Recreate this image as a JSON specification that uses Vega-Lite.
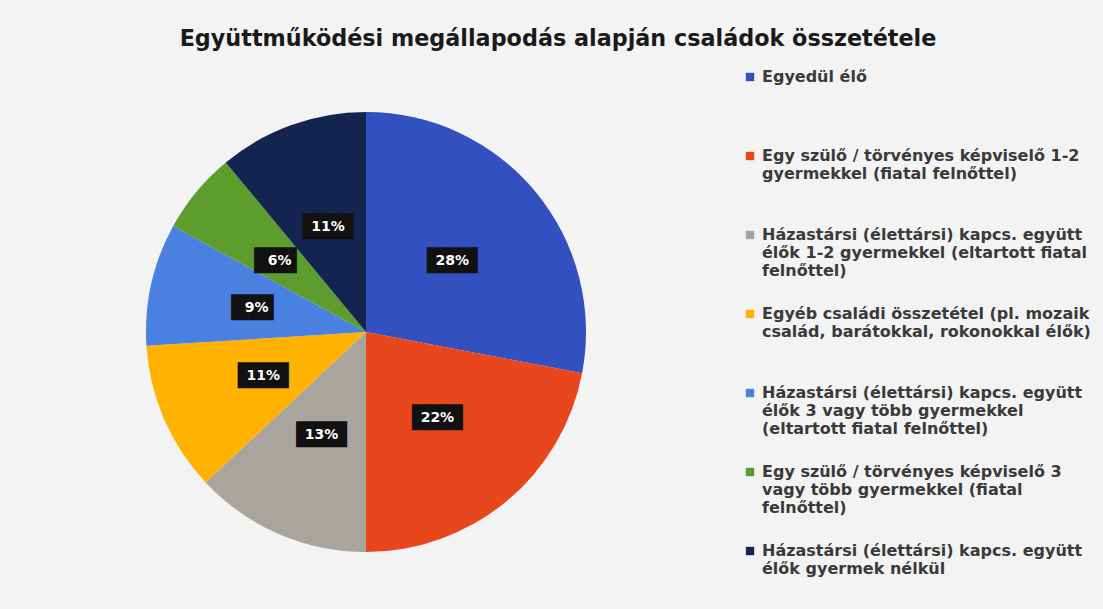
{
  "$schema": "https://vega.github.io/schema/vega-lite/v6.json",
  "autosize": {"type": "none"},
  "width": 732,
  "height": 544,
  "padding": {"top": 60, "left": 0, "right": 371, "bottom": 5},
  "background": "#f3f3f3",
  "title": {
    "text": "Együttműködési megállapodás alapján családok összetétele",
    "font": "DejaVu Sans",
    "fontSize": 22.3,
    "fontWeight": "bold",
    "color": "#1a1a1a",
    "anchor": "middle",
    "frame": "bounds",
    "dx": 8,
    "offset": 10
  },
  "data": {
    "values": [
      {"o": 1, "cat": "Egyedül élő", "pct": 28, "label": "28%"},
      {"o": 2, "cat": "Egy szülő / törvényes képviselő 1-2\ngyermekkel (fiatal felnőttel)", "pct": 22, "label": "22%"},
      {"o": 3, "cat": "Házastársi (élettársi) kapcs. együtt\nélők 1-2 gyermekkel (eltartott fiatal\nfelnőttel)", "pct": 13, "label": "13%"},
      {"o": 4, "cat": "Egyéb családi összetétel (pl. mozaik\ncsalád, barátokkal, rokonokkal élők)", "pct": 11, "label": "11%"},
      {"o": 5, "cat": "Házastársi (élettársi) kapcs. együtt\nélők 3 vagy több gyermekkel\n(eltartott fiatal felnőttel)", "pct": 9, "label": "9%"},
      {"o": 6, "cat": "Egy szülő / törvényes képviselő 3\nvagy több gyermekkel (fiatal\nfelnőttel)", "pct": 6, "label": "6%"},
      {"o": 7, "cat": "Házastársi (élettársi) kapcs. együtt\nélők gyermek nélkül", "pct": 11, "label": "11%"}
    ]
  },
  "encoding": {
    "theta": {"field": "pct", "type": "quantitative", "stack": true},
    "order": {"field": "o", "type": "quantitative"}
  },
  "layer": [
    {
      "mark": {"type": "arc", "outerRadius": 220},
      "encoding": {
        "color": {
          "field": "cat",
          "type": "nominal",
          "scale": {
            "domain": [
              "Egyedül élő",
              "Egy szülő / törvényes képviselő 1-2\ngyermekkel (fiatal felnőttel)",
              "Házastársi (élettársi) kapcs. együtt\nélők 1-2 gyermekkel (eltartott fiatal\nfelnőttel)",
              "Egyéb családi összetétel (pl. mozaik\ncsalád, barátokkal, rokonokkal élők)",
              "Házastársi (élettársi) kapcs. együtt\nélők 3 vagy több gyermekkel\n(eltartott fiatal felnőttel)",
              "Egy szülő / törvényes képviselő 3\nvagy több gyermekkel (fiatal\nfelnőttel)",
              "Házastársi (élettársi) kapcs. együtt\nélők gyermek nélkül"
            ],
            "range": ["#3250c0", "#e8461c", "#aaa49f", "#ffb300", "#4a80e0", "#5c9d2d", "#132450"]
          },
          "legend": {
            "title": null,
            "orient": "right",
            "offset": 1,
            "padding": 9,
            "symbolType": "square",
            "symbolSize": 70,
            "labelFont": "DejaVu Sans",
            "labelFontSize": 16,
            "labelFontWeight": "bold",
            "labelColor": "#3a3a3a",
            "labelLimit": 400,
            "labelExpr": "split(datum.label, '\\n')",
            "gridAlign": "all",
            "rowPadding": 27
          }
        }
      }
    },
    {
      "mark": {"type": "text", "radius": 112, "font": "DejaVu Sans", "fontSize": 22, "color": "#111111", "baseline": "middle"},
      "encoding": {
        "text": {"condition": {"test": "datum.pct < 10", "value": "██▌"}, "value": "███"}
      }
    },
    {
      "mark": {"type": "text", "radius": 112, "font": "DejaVu Sans", "fontSize": 14, "fontWeight": "bold", "color": "white"},
      "encoding": {"text": {"field": "label"}}
    }
  ]
}
